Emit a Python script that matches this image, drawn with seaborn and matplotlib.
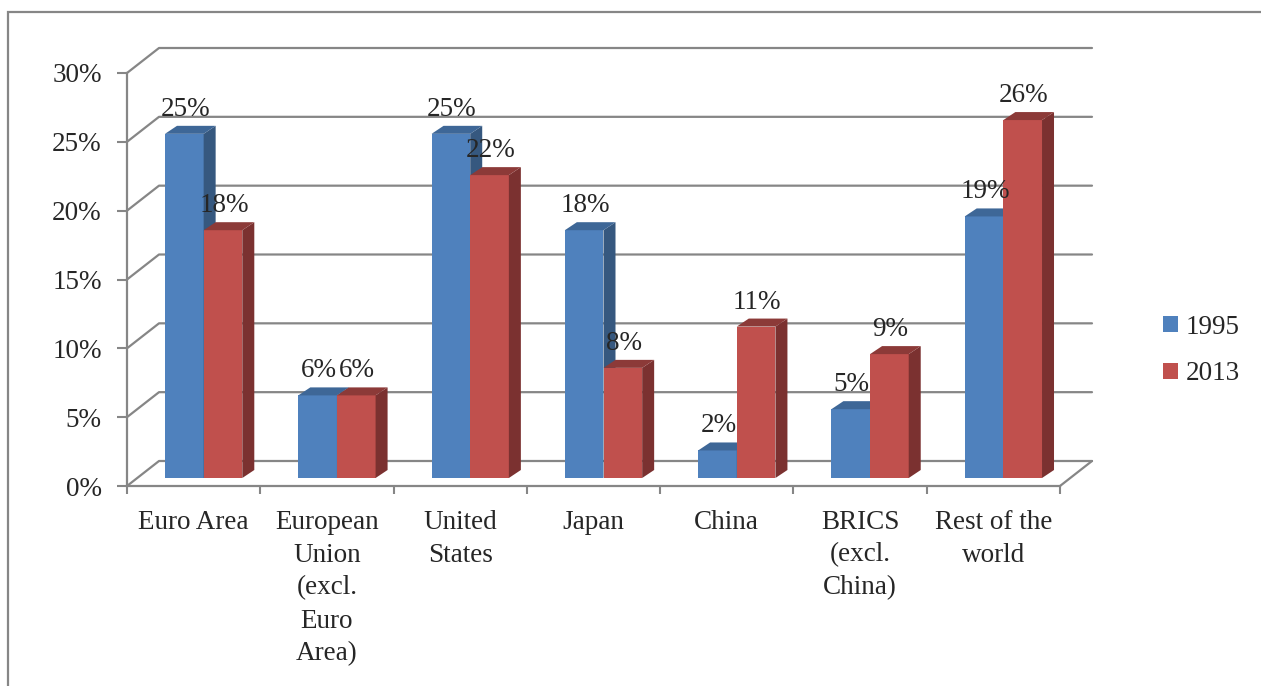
import numpy as np
import pandas as pd
import matplotlib
matplotlib.use("Agg")
import matplotlib.pyplot as plt
import seaborn as sns
from matplotlib.transforms import ScaledTranslation, IdentityTransform
from matplotlib.patches import Polygon, Rectangle
from matplotlib.lines import Line2D

# ---------------- data ----------------
categories = ["Euro Area", "European\nUnion\n(excl.\nEuro\nArea)", "United\nStates",
              "Japan", "China", "BRICS\n(excl.\nChina)", "Rest of the\nworld"]
years = ["1995", "2013"]
share_1995 = [25, 6, 25, 18, 2, 5, 19]
share_2013 = [18, 6, 22, 8, 11, 9, 26]
y_ticks = [0, 5, 10, 15, 20, 25, 30]

front_colors = {"1995": "#4F81BD", "2013": "#C0504D"}
side_colors = {"1995": "#36587F", "2013": "#7B3130"}
top_colors = {"1995": "#3E6797", "2013": "#8C3A38"}
GRID = "#868686"
FS = 19.5

df = pd.DataFrame({
    "category": categories * 2,
    "year": ["1995"] * len(categories) + ["2013"] * len(categories),
    "share": share_1995 + share_2013,
})

sns.set_style("white")
plt.rcParams["font.family"] = ["Liberation Serif", "DejaVu Serif"]

W, H = 1261, 686
DPI = 100
fig = plt.figure(figsize=(W / DPI, H / DPI), dpi=DPI)
# front plane of the 3-D box
ax = fig.add_axes([127 / W, (H - 486) / H, 933 / W, 413 / H])
ax.set_facecolor("none")

sns.barplot(data=df, x="category", y="share", hue="year", order=categories,
            hue_order=years, palette=front_colors, width=0.58, saturation=1,
            errorbar=None, linewidth=0, ax=ax)
ax.set_xlim(-0.5, len(categories) - 0.5)
ax.set_ylim(0, 30)

# ---------------- back wall / floor ----------------
back_dx, back_dy = 32, 25     # depth of the whole box (pixels)
left_x, right_x = -0.5, len(categories) - 0.5
for v in y_ticks:
    fx, fy = ax.transData.transform((left_x, v))
    rx, _ = ax.transData.transform((right_x, v))
    ax.add_line(Line2D([fx, fx + back_dx, rx + back_dx], [fy, fy + back_dy, fy + back_dy],
                       transform=IdentityTransform(), color=GRID, lw=1.6, zorder=0.5,
                       clip_on=False))
fx, fy = ax.transData.transform((right_x, 0))
ax.add_line(Line2D([fx, fx + back_dx], [fy, fy + back_dy], transform=IdentityTransform(),
                   color=GRID, lw=1.6, zorder=0.5, clip_on=False))

# ---------------- pseudo 3-D bars ----------------
shift = ScaledTranslation(10 / DPI, 8 / DPI, fig.dpi_scale_trans)
bar_dx, bar_dy = 12, 8
n = len(categories)
bars = []
for i, p in enumerate(ax.patches[: 2 * n]):
    year = years[i // n]
    bars.append((p.get_x(), p, year))
bars.sort(key=lambda t: t[0])

z = 2
for _, p, year in bars:
    trans = ax.transData + shift
    p.set_transform(trans)
    p.set_clip_on(False)
    p.set_zorder(z)
    x0, y0 = trans.transform((p.get_x(), 0))
    x1, y1 = trans.transform((p.get_x() + p.get_width(), p.get_height()))
    side = Polygon([(x1, y0), (x1 + bar_dx, y0 + bar_dy), (x1 + bar_dx, y1 + bar_dy), (x1, y1)],
                   closed=True, transform=IdentityTransform(), facecolor=side_colors[year],
                   edgecolor="none", zorder=z, clip_on=False)
    top = Polygon([(x0, y1), (x1, y1), (x1 + bar_dx, y1 + bar_dy), (x0 + bar_dx, y1 + bar_dy)],
                  closed=True, transform=IdentityTransform(), facecolor=top_colors[year],
                  edgecolor="none", zorder=z, clip_on=False)
    ax.add_patch(side)
    ax.add_patch(top)
    ax.annotate(f"{p.get_height():g}%", xy=(p.get_x() + p.get_width() / 2, p.get_height()),
                xytext=(11, 26), textcoords="offset pixels", ha="center", va="baseline",
                fontsize=FS, annotation_clip=False, zorder=100)
    z += 1

# ---------------- axes styling ----------------
ax.set_xlabel("")
ax.set_ylabel("")
ax.set_yticks(y_ticks)
ax.set_yticklabels([f"{v}%" for v in y_ticks])
ax.set_xticks(range(n))
ax.set_xticklabels(categories, linespacing=1.42)
ax.set_xticks(np.arange(-0.5, n, 1.0), minor=True)
ax.tick_params(axis="y", direction="out", length=7.2, width=1.5, color=GRID, pad=11,
               labelsize=FS, left=True)
ax.tick_params(axis="x", which="major", length=0, pad=17, labelsize=FS)
ax.tick_params(axis="x", which="minor", direction="out", length=5.8, width=1.5, color=GRID,
               bottom=True)
for s in ["top", "right"]:
    ax.spines[s].set_visible(False)
for s in ["left", "bottom"]:
    ax.spines[s].set_color(GRID)
    ax.spines[s].set_linewidth(1.6)
    ax.spines[s].set_zorder(1)

# legend
handles, labels = ax.get_legend_handles_labels()
if ax.get_legend() is not None:
    ax.get_legend().remove()
fig.legend(handles, labels, loc="center left", bbox_to_anchor=(1163 / W, (H - 350.5) / H),
           frameon=False, fontsize=FS, handlelength=0.55, handleheight=0.55,
           handletextpad=0.28, labelspacing=0.8, borderpad=0, borderaxespad=0)

# outer chart border
fig.add_artist(Rectangle((8 / W, -0.2), 1.2, (H - 12) / H + 0.2, transform=fig.transFigure,
                         fill=False, edgecolor=GRID, lw=1.6, zorder=0))

fig.savefig("out.png", dpi=DPI)
